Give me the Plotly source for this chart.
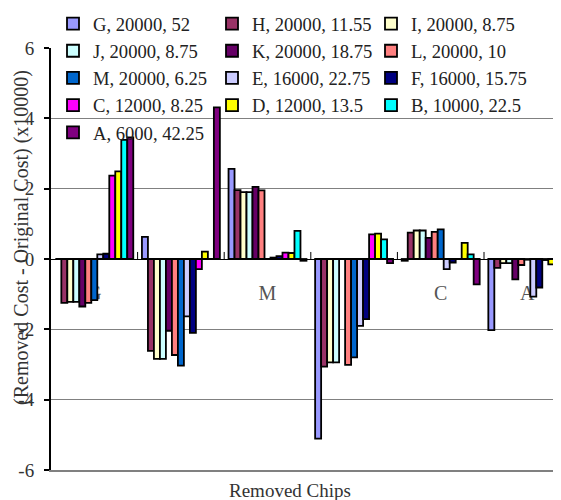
import plotly.graph_objects as go

categories = ["G", "B", "M", "K", "C", "A"]

series_names = [
    "G, 20000, 52", "H, 20000, 11.55", "I, 20000, 8.75",
    "J, 20000, 8.75", "K, 20000, 18.75", "L, 20000, 10",
    "M, 20000, 6.25", "E, 16000, 22.75", "F, 16000, 15.75",
    "C, 12000, 8.25", "D, 12000, 13.5", "B, 10000, 22.5",
    "A, 6000, 42.25",
]

# values per series across categories G, B, M, K, C, A
vals_G = [0.00, 0.63, 2.56, -5.11, -0.05, -2.02]
vals_H = [-1.25, -2.61, 1.96, -3.06, 0.75, -0.25]
vals_I = [-1.22, -2.84, 1.90, -2.94, 0.81, -0.12]
vals_J = [-1.22, -2.84, 1.90, -2.94, 0.81, -0.12]
vals_K = [-1.35, -2.04, 2.05, 0.00, 0.60, -0.58]
vals_L = [-1.25, -2.73, 1.95, -3.01, 0.77, -0.17]
vals_M = [-1.17, -3.03, 0.00, -2.80, 0.84, -0.02]
vals_E = [0.13, -1.63, 0.04, -1.90, -0.29, -1.07]
vals_F = [0.15, -2.10, 0.08, -1.71, -0.10, -0.81]
vals_C = [2.37, -0.29, 0.18, 0.70, 0.00, -0.03]
vals_D = [2.49, 0.21, 0.17, 0.72, 0.46, -0.15]
vals_B = [3.39, 0.00, 0.80, 0.56, 0.13, -0.20]
vals_A = [3.46, 4.31, -0.05, -0.12, -0.72, 0.00]

series_values = [vals_G, vals_H, vals_I, vals_J, vals_K, vals_L, vals_M,
                 vals_E, vals_F, vals_C, vals_D, vals_B, vals_A]

colors = ["#9999FF", "#993366", "#FFFFCC", "#CCFFFF", "#660066", "#FF8080",
          "#0066CC", "#CCCCFF", "#000080", "#FF00FF", "#FFFF00", "#00FFFF",
          "#800080"]

y_ticks = [-6, -4, -2, 0, 2, 4, 6]
grid_vals = [-4, -2, 2, 4]

FONT = "Liberation Serif"

# page body has an 8px margin, so the figure is sized / offset accordingly
W, H = 553, 492
ML, MT, MB, MR = 43, 40, 30, 0
PW, PH = W - ML - MR, H - MT - MB

fig = go.Figure()
for name, vals, col in zip(series_names, series_values, colors):
    fig.add_trace(go.Bar(
        x=categories, y=vals, name=name,
        marker=dict(color=col, line=dict(color="black", width=1.8)),
    ))

shapes = []
for i in range(len(categories) - 1):
    shapes.append(dict(type="line", xref="x", yref="y", x0=i + 0.5, x1=i + 0.5,
                       y0=0, y1=0.2, line=dict(color="black", width=1)))
for i, c in enumerate(categories):
    shapes.append(dict(type="rect", xref="x", yref="y", x0=i - 0.3, x1=i + 0.3,
                       y0=-1.22, y1=-0.58, line=dict(width=0), fillcolor="rgba(0,0,0,0)",
                       layer="below",
                       label=dict(text=c, textposition="middle center",
                                  font=dict(family=FONT, size=20, color="#555555"))))

fig.update_layout(
    width=W, height=H,
    margin=dict(l=ML, r=MR, t=MT, b=MB, autoexpand=False),
    paper_bgcolor="white", plot_bgcolor="white",
    barmode="group", bargap=0.1, bargroupgap=0,
    font=dict(family=FONT, size=18, color="#333333"),
    showlegend=True,
    legend=dict(orientation="h", x=2 / PW, xanchor="left", y=1 + 43.0 / PH, yanchor="top",
                entrywidthmode="pixels", entrywidth=114, itemwidth=30,
                bgcolor="rgba(0,0,0,0)", font=dict(family=FONT, size=18.6, color="#222222"),
                traceorder="normal"),
    shapes=shapes,
    annotations=[
        dict(text="(Removed Cost - Original Cost) (x10000)", xref="paper", yref="paper",
             x=(13.5 - ML) / PW, y=(MT + PH - 229.5) / PH, xanchor="center", yanchor="middle",
             textangle=-90, showarrow=False,
             font=dict(family=FONT, size=20, color="#333333")),
        dict(text="Removed Chips", xref="paper", yref="paper",
             x=(282 - ML) / PW, y=(MT + PH - 482) / PH, xanchor="center", yanchor="middle",
             showarrow=False, font=dict(family=FONT, size=19, color="#333333")),
    ],
)

fig.update_xaxes(type="category", range=[-0.5, -0.5 + PW / 86.6], showticklabels=False,
                 ticks="", showgrid=False, zeroline=False,
                 showline=True, linecolor="#808080", linewidth=2)
fig.update_yaxes(range=[-6, 6], tickvals=y_ticks, ticktext=[str(v) for v in y_ticks],
                 showgrid=False, zeroline=True, zerolinecolor="black", zerolinewidth=1,
                 showline=True, linecolor="black", linewidth=2,
                 ticks="outside", ticklen=5, tickwidth=1.5, tickcolor="black",
                 ticklabelstandoff=6,
                 tickfont=dict(family=FONT, size=19, color="#333333"),
                 minor=dict(tickvals=grid_vals, showgrid=True, gridcolor="#808080",
                            gridwidth=1, ticks=""))

fig.write_html("out.html")
